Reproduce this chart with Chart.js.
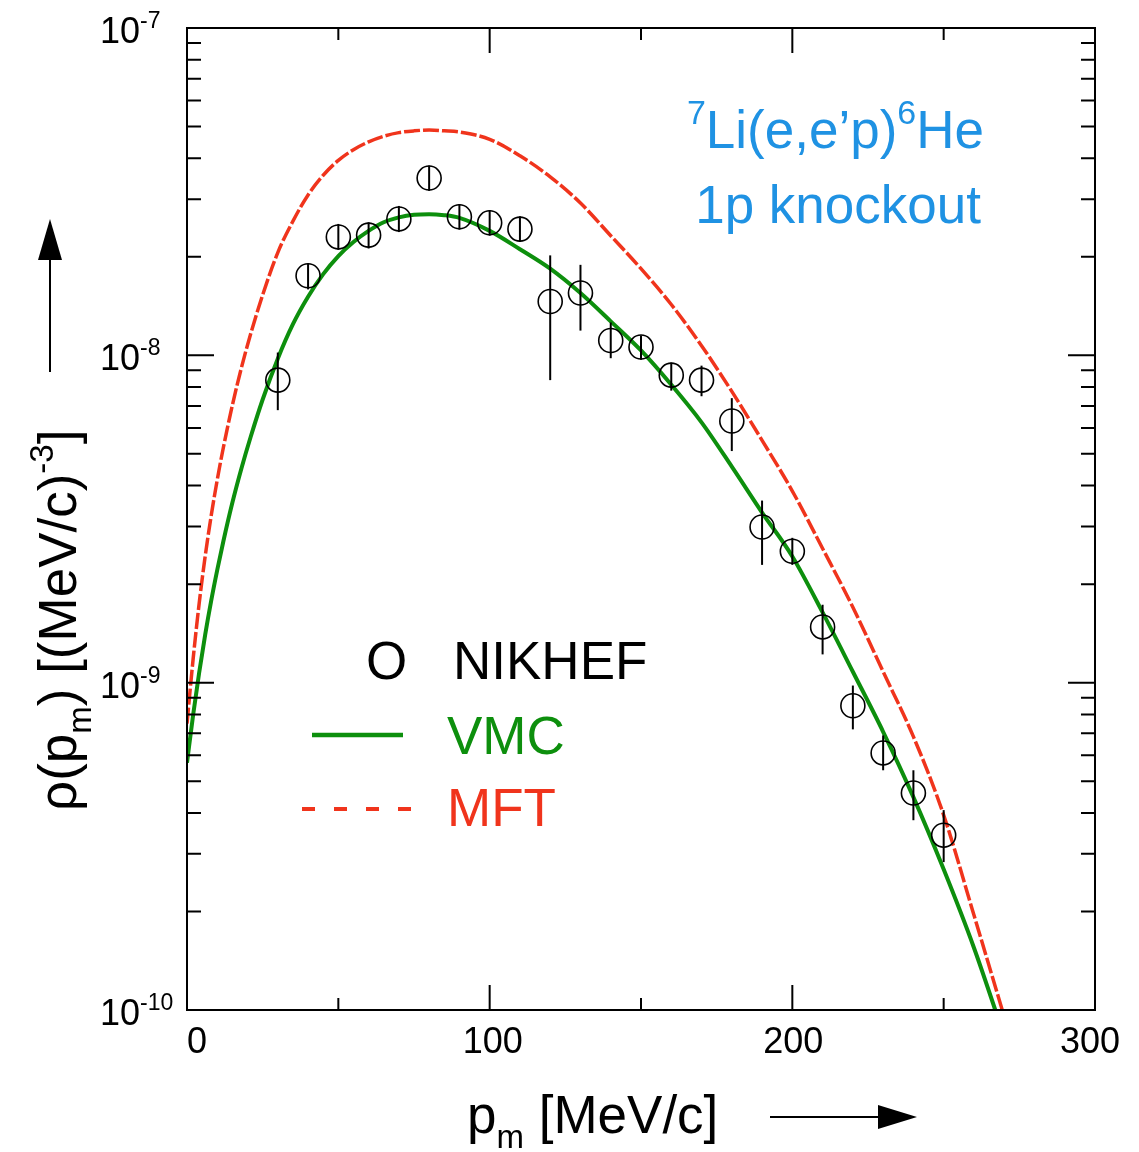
<!DOCTYPE html>
<html>
<head>
<meta charset="utf-8">
<script src="https://cdn.jsdelivr.net/npm/chart.js"></script>
<style>
  html, body { margin: 0; padding: 0; background: #fff; }
  #wrap { width: 1139px; height: 1152px; }
</style>
</head>
<body>
<div id="wrap"><canvas id="chart" width="1139" height="1152"></canvas></div>
<script>
// NIKHEF data (p_m in MeV/c, rho in (MeV/c)^-3) with error bar ends
const nikP = [30, 40, 50, 60, 70, 80, 90, 100, 110, 120, 130, 140, 150, 160, 170, 180, 190, 200, 210, 220, 230, 240, 250];
const nikRho = [8.4e-9, 1.75e-8, 2.3e-8, 2.33e-8, 2.61e-8, 3.48e-8, 2.65e-8, 2.54e-8, 2.43e-8, 1.46e-8, 1.55e-8, 1.11e-8, 1.06e-8,
  8.7e-9, 8.4e-9, 6.3e-9, 2.99e-9, 2.52e-9, 1.48e-9, 8.5e-10, 6.1e-10, 4.6e-10, 3.42e-10];
const nikLow = [6.8e-9, 1.59e-8, 2.1e-8, 2.12e-8, 2.38e-8, 3.18e-8, 2.42e-8, 2.32e-8, 2.22e-8, 8.4e-9, 1.19e-8, 9.8e-9, 9.7e-9,
  7.8e-9, 7.5e-9, 5.1e-9, 2.29e-9, 2.29e-9, 1.22e-9, 7.2e-10, 5.4e-10, 3.8e-10, 2.83e-10];
const nikHigh = [1.02e-8, 1.91e-8, 2.52e-8, 2.55e-8, 2.86e-8, 3.8e-8, 2.9e-8, 2.78e-8, 2.66e-8, 2.02e-8, 1.89e-8, 1.26e-8, 1.15e-8,
  9.5e-9, 9.3e-9, 7.4e-9, 3.6e-9, 2.77e-9, 1.73e-9, 9.8e-10, 6.9e-10, 5.4e-10, 4.08e-10];

// VMC curve (green solid)
const vmcP = [0, 2, 4, 6, 8, 10, 12, 15, 18, 21, 25, 30, 35, 40, 45, 50, 55, 60, 65, 70, 75, 80, 85, 90, 100,
  110, 120, 130, 140, 150, 160, 170, 180, 190, 200, 210, 220, 230, 240, 250, 260, 270];
const vmcRho = [5.69e-10, 7.94e-10, 1.07e-9, 1.4e-9, 1.78e-9, 2.21e-9, 2.7e-9, 3.55e-9, 4.52e-9, 5.62e-9, 7.33e-9, 9.77e-9,
  1.245e-8, 1.51e-8, 1.77e-8, 2.01e-8, 2.22e-8, 2.4e-8, 2.55e-8, 2.64e-8, 2.69e-8, 2.7e-8, 2.68e-8, 2.63e-8, 2.4e-8,
  2.11e-8, 1.84e-8, 1.55e-8, 1.27e-8, 1.035e-8, 8.13e-9, 6.24e-9, 4.57e-9, 3.31e-9, 2.43e-9, 1.64e-9, 1.08e-9, 7.08e-10,
  4.47e-10, 2.69e-10, 1.55e-10, 8.3e-11];

// MFT curve (red dashed)
const mftP = [0, 2, 4, 6, 8, 10, 12, 15, 18, 21, 25, 30, 35, 40, 45, 50, 55, 60, 65, 70, 75, 80, 85, 90, 100,
  110, 120, 130, 140, 150, 160, 170, 180, 190, 200, 210, 220, 230, 240, 250, 260, 270];
const mftRho = [7.5e-10, 1.175e-9, 1.74e-9, 2.43e-9, 3.24e-9, 4.17e-9, 5.22e-9, 7.05e-9, 9.18e-9, 1.16e-8, 1.53e-8, 2.06e-8,
  2.57e-8, 3.09e-8, 3.55e-8, 3.94e-8, 4.25e-8, 4.49e-8, 4.67e-8, 4.79e-8, 4.85e-8, 4.88e-8, 4.85e-8, 4.81e-8, 4.57e-8,
  4.07e-8, 3.51e-8, 2.92e-8, 2.32e-8, 1.84e-8, 1.43e-8, 1.07e-8, 7.76e-9, 5.5e-9, 3.85e-9, 2.57e-9, 1.7e-9, 1.08e-9,
  6.84e-10, 3.94e-10, 1.95e-10, 9.55e-11];

// axis tick labels
const xTickLabels = ['0', '100', '200', '300'];
const yTickExps = ['-7', '-8', '-9', '-10'];

const GREEN = '#0d8f0d';
const RED = '#f0341c';
const BLUE = '#1f92e3';
const FONT = '"Liberation Sans", Arial, sans-serif';

const toXY = (xs, ys) => xs.map((x, i) => ({ x: x, y: ys[i] }));

// text with sub/superscript pieces: [text, size, dy]
function drawRich(ctx, parts, x, y, color) {
    ctx.fillStyle = color;
    ctx.textBaseline = 'alphabetic';
    ctx.textAlign = 'left';
    let cx = x;
    parts.forEach(([t, size, dy]) => {
        ctx.font = size + 'px ' + FONT;
        ctx.fillText(t, cx, y + dy);
        cx += ctx.measureText(t).width;
    });
}

function richWidth(ctx, parts) {
    let w = 0;
    parts.forEach(([t, size]) => {
        ctx.font = size + 'px ' + FONT;
        w += ctx.measureText(t).width;
    });
    return w;
}

const framePlugin = {
    id: 'frame',
    afterDatasetsDraw(chart) {
        const ctx = chart.ctx;
        const xs = chart.scales.x, ys = chart.scales.y;
        // error bars through the circles
        ctx.save();
        ctx.strokeStyle = '#000';
        ctx.lineWidth = 2;
        nikP.forEach((p, i) => {
            const px = xs.getPixelForValue(p);
            ctx.beginPath();
            ctx.moveTo(px, ys.getPixelForValue(nikLow[i]));
            ctx.lineTo(px, ys.getPixelForValue(nikHigh[i]));
            ctx.stroke();
        });
        ctx.restore();
    },
    afterDraw(chart) {
        const ctx = chart.ctx;
        const a = chart.chartArea;
        const xs = chart.scales.x, ys = chart.scales.y;
        ctx.save();
        ctx.strokeStyle = '#000';
        ctx.lineWidth = 2;
        ctx.strokeRect(a.left, a.top, a.right - a.left, a.bottom - a.top);

        // x ticks, inward on bottom and top
        for (let v = 50; v < 300; v += 50) {
            const px = xs.getPixelForValue(v);
            const len = v % 100 === 0 ? 25 : 12;
            ctx.beginPath();
            ctx.moveTo(px, a.bottom); ctx.lineTo(px, a.bottom - len);
            ctx.moveTo(px, a.top); ctx.lineTo(px, a.top + len);
            ctx.stroke();
        }
        // y ticks, log decades with minor ticks
        for (let e = -10; e <= -8; e++) {
            for (let m = 1; m <= 9; m++) {
                if (m === 1 && e === -10) continue;
                const py = ys.getPixelForValue(m * Math.pow(10, e));
                const len = m === 1 ? 27 : 14;
                ctx.beginPath();
                ctx.moveTo(a.left, py); ctx.lineTo(a.left + len, py);
                ctx.moveTo(a.right, py); ctx.lineTo(a.right - len, py);
                ctx.stroke();
            }
        }

        // x tick labels
        ctx.fillStyle = '#000';
        ctx.font = '36px ' + FONT;
        ctx.textAlign = 'center';
        ctx.textBaseline = 'middle';
        const xShift = [10, 3, 1, -5];
        xTickLabels.forEach((t, i) => {
            ctx.fillText(t, xs.getPixelForValue(Number(t)) + xShift[i], 1043);
        });

        // y tick labels 10^n
        yTickExps.forEach(ex => {
            const py = ys.getPixelForValue(Math.pow(10, Number(ex)));
            drawRich(ctx, [['10', 36, 0], [ex, 23, -15]], 100, py + 15, '#000');
        });

        // x title with arrow
        drawRich(ctx, [['p', 53, 0], ['m', 33, 15], [' [MeV/c]', 53, 0]], 467, 1133, '#000');
        ctx.beginPath();
        ctx.moveTo(770, 1117); ctx.lineTo(885, 1117);
        ctx.stroke();
        ctx.beginPath();
        ctx.moveTo(917, 1117); ctx.lineTo(878, 1105); ctx.lineTo(878, 1129); ctx.closePath();
        ctx.fill();

        // y title rotated with arrow
        ctx.save();
        ctx.translate(76, 811);
        ctx.rotate(-Math.PI / 2);
        drawRich(ctx, [['\u03c1(p', 53, 0], ['m', 33, 15], [') [(MeV/c)', 53, 0], ['-3', 33, -23], [']', 53, 0]], 0, 0, '#000');
        ctx.restore();
        ctx.beginPath();
        ctx.moveTo(50, 372); ctx.lineTo(50, 255);
        ctx.stroke();
        ctx.beginPath();
        ctx.moveTo(50, 219); ctx.lineTo(38, 260); ctx.lineTo(62, 260); ctx.closePath();
        ctx.fill();

        // reaction label
        const l1 = [['7', 34, -24], ['Li(e,e\u2019p)', 53, 0], ['6', 34, -24], ['He', 53, 0]];
        drawRich(ctx, l1, 984 - richWidth(ctx, l1), 148, BLUE);
        const l2 = [['1p knockout', 53, 0]];
        drawRich(ctx, l2, 981 - richWidth(ctx, l2), 223, BLUE);

        // legend
        drawRich(ctx, [['O', 53, 0]], 366, 679, '#000');
        drawRich(ctx, [['NIKHEF', 53, 0]], 453, 679, '#000');
        ctx.strokeStyle = GREEN;
        ctx.lineWidth = 4.5;
        ctx.beginPath();
        ctx.moveTo(312, 735); ctx.lineTo(403, 735);
        ctx.stroke();
        drawRich(ctx, [['VMC', 53, 0]], 447, 754, GREEN);
        ctx.strokeStyle = RED;
        ctx.lineWidth = 4;
        ctx.setLineDash([13, 19]);
        ctx.beginPath();
        ctx.moveTo(302, 809); ctx.lineTo(415, 809);
        ctx.stroke();
        ctx.setLineDash([]);
        drawRich(ctx, [['MFT', 53, 0]], 447, 826, RED);
        ctx.restore();
    }
};

new Chart(document.getElementById('chart'), {
    type: 'scatter',
    data: {
        datasets: [
            {
                label: 'NIKHEF',
                data: toXY(nikP, nikRho),
                pointStyle: 'circle',
                pointRadius: 12,
                borderColor: '#000',
                backgroundColor: 'rgba(0,0,0,0)',
                borderWidth: 1.6,
                showLine: false,
                order: 0
            },
            {
                label: 'VMC',
                data: toXY(vmcP, vmcRho),
                showLine: true,
                borderColor: GREEN,
                borderWidth: 4,
                pointRadius: 0,
                cubicInterpolationMode: 'monotone',
                order: 1
            },
            {
                label: 'MFT',
                data: toXY(mftP, mftRho),
                showLine: true,
                borderColor: RED,
                borderWidth: 3.5,
                borderDash: [16, 3],
                pointRadius: 0,
                cubicInterpolationMode: 'monotone',
                order: 2
            }
        ]
    },
    options: {
        responsive: false,
        animation: false,
        layout: { padding: { left: 187, right: 44, top: 28, bottom: 142 } },
        plugins: {
            legend: { display: false },
            tooltip: { enabled: false }
        },
        scales: {
            x: { type: 'linear', min: 0, max: 300, display: false },
            y: { type: 'logarithmic', min: 1e-10, max: 1e-7, display: false }
        }
    },
    plugins: [framePlugin]
});
</script>
</body>
</html>
